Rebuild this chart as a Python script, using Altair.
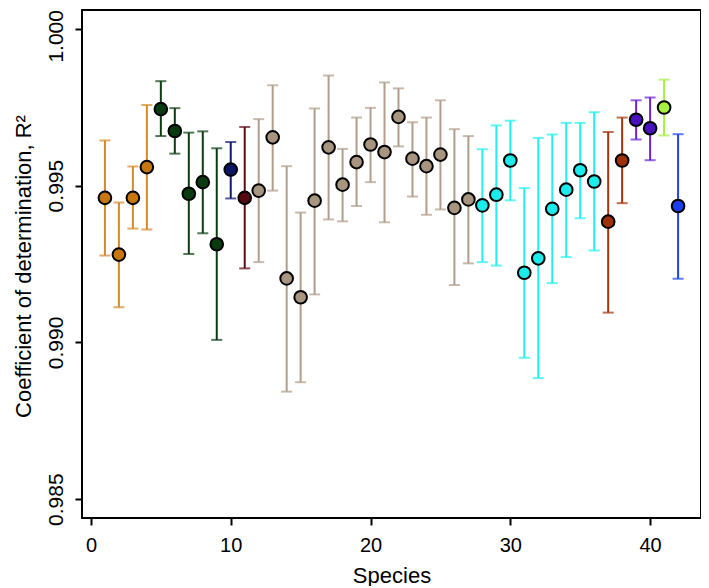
import altair as alt
import pandas as pd

species = list(range(1, 43))
r2 = [0.99461, 0.99280, 0.99461, 0.99559, 0.99744, 0.99674, 0.99474, 0.99511, 0.99313, 0.99551,
      0.99461, 0.99484, 0.99654, 0.99204, 0.99144, 0.99452, 0.99622, 0.99503, 0.99575, 0.99631,
      0.99607, 0.99719, 0.99586, 0.99562, 0.99599, 0.99429, 0.99456, 0.99437, 0.99471, 0.99580,
      0.99222, 0.99268, 0.99426, 0.99487, 0.99549, 0.99513, 0.99385, 0.99580, 0.99710, 0.99683,
      0.99749, 0.99435]
upper = [0.99644, 0.99446, 0.99561, 0.99757, 0.99833, 0.99747, 0.99669, 0.99673, 0.99619, 0.99639,
         0.99687, 0.99712, 0.99820, 0.99562, 0.99414, 0.99746, 0.99851, 0.99617, 0.99717, 0.99748,
         0.99829, 0.99810, 0.99702, 0.99717, 0.99772, 0.99680, 0.99658, 0.99616, 0.99692, 0.99707,
         0.99492, 0.99652, 0.99663, 0.99700, 0.99700, 0.99734, 0.99671, 0.99717, 0.99772, 0.99781,
         0.99838, 0.99664]
lower = [0.99277, 0.99112, 0.99363, 0.99360, 0.99658, 0.99602, 0.99282, 0.99348, 0.99008, 0.99459,
         0.99236, 0.99256, 0.99484, 0.98843, 0.98873, 0.99153, 0.99392, 0.99386, 0.99435, 0.99511,
         0.99383, 0.99625, 0.99465, 0.99407, 0.99424, 0.99183, 0.99252, 0.99256, 0.99245, 0.99453,
         0.98951, 0.98886, 0.99189, 0.99272, 0.99396, 0.99293, 0.99095, 0.99444, 0.99647, 0.99581,
         0.99660, 0.99203]
group = (["A"] * 4 + ["B"] * 5 + ["C"] + ["D"] + ["E"] * 16 + ["F"] * 9 +
         ["G"] * 2 + ["H"] * 2 + ["I"] + ["J"])

groups = ["A", "B", "C", "D", "E", "F", "G", "H", "I", "J"]
bar_colors = ["#D4892A", "#0B3D12", "#0D1A72", "#5E0A12", "#B09E8A",
              "#22F0F0", "#A3330C", "#6A22D2", "#A6F042", "#1E44F0"]
point_colors = ["#C8770F", "#0A3A10", "#0A1565", "#550810", "#A8957F",
                "#1CEBEB", "#9E300A", "#4A12BE", "#A8F040", "#1A3EF0"]

x_ticks = [0, 10, 20, 30, 40]
y_ticks = [0.985, 0.990, 0.995, 1.000]

df = pd.DataFrame(dict(species=species, r2=r2, upper=upper, lower=lower, group=group))

x_scale = alt.Scale(domain=[-0.64, 43.64], nice=False, zero=False)
y_scale = alt.Scale(domain=[0.9844, 1.0006], nice=False, zero=False)

color = alt.Color("group:N", scale=alt.Scale(domain=groups, range=bar_colors), legend=None)

x_axis = alt.Axis(values=x_ticks, title="Species", labelFontSize=20, labelPadding=10,
                  titleFontSize=22, titleFontWeight="normal", titleY=57,
                  titleBaseline="middle", labelFlush=False)
y_axis = alt.Axis(values=y_ticks, format=".3f", labelAngle=270, labelAlign="center",
                  labelBaseline="bottom", labelPadding=9, labelFontSize=21,
                  labelOffset={"condition": {"test": "datum.value >= 0.9999", "value": 7},
                               "value": 0},
                  title="Coefficient of determination, R²", titleFontSize=22,
                  titleFontWeight="normal", titleAngle=270, titleX=-59, titleY=256,
                  titleAlign="center", titleBaseline="middle")

X = alt.X("species:Q", scale=x_scale, axis=x_axis)


def Y(field):
    return alt.Y(field, type="quantitative", scale=y_scale, axis=y_axis)


base = alt.Chart(df)

bars = base.mark_rule(strokeWidth=2).encode(
    x=X, y=Y("lower"), y2="upper:Q", color=color,
)

cap_top = base.mark_tick(orient="horizontal", size=11, thickness=2).encode(
    x=X, y=Y("upper"), color=color,
)
cap_bot = base.mark_tick(orient="horizontal", size=11, thickness=2).encode(
    x=X, y=Y("lower"), color=color,
)

points = base.mark_circle(size=160, stroke="black", strokeWidth=2, opacity=1).encode(
    x=X, y=Y("r2"),
    fill=alt.Fill("group:N", scale=alt.Scale(domain=groups, range=point_colors), legend=None),
)

chart = alt.layer(bars, cap_top, cap_bot, points).properties(
    width=619,
    height=508,
    autosize=alt.AutoSizeParams(type="none"),
    padding={"left": 74, "top": 2, "right": 0, "bottom": 68},
).configure_view(
    stroke="black", strokeWidth=2
).configure_axis(
    domain=False, grid=False, tickColor="black", tickWidth=2, tickSize=7,
    labelColor="black", titleColor="black", labelFont="Liberation Sans",
    titleFont="Liberation Sans",
)

chart.save("out.html", embed_options={"renderer": "svg", "actions": False})
